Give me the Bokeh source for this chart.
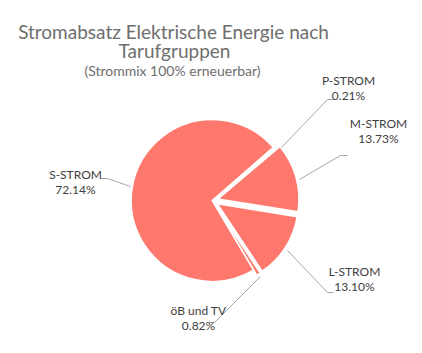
import math
from bokeh.plotting import figure
from bokeh.models import Range1d
from bokeh.core.properties import value
from bokeh.embed import file_html
from bokeh.resources import INLINE

# ---- data ----
categories = ["P-STROM", "M-STROM", "L-STROM", "öB und TV", "S-STROM"]
shares = [0.21, 13.73, 13.10, 0.82, 72.14]
pct_labels = ["0.21%", "13.73%", "13.10%", "0.82%", "72.14%"]
title_lines = ["Stromabsatz Elektrische Energie nach", "Tarufgruppen"]
subtitle = "(Strommix 100% erneuerbar)"

# ---- layout (screen pixels, y downward) ----
W, H = 422, 353
CX, CY, R = 211.7, 200.0, 81.0
FIRST_ANGLE = 49.0          # degrees clockwise from 12 o'clock
explode = [6, 6, 6, 6, 0]
label_xy = [(348, 80), (378, 123), (354, 271), (198, 310), (75, 174)]
leaders = [
    [(281, 147), (327, 99), (333, 99)],
    [(299, 179), (340, 155), (347, 155)],
    [(287, 250), (327, 292), (333, 292)],
    [(260, 276), (214, 322), (208, 322)],
    [(130, 186), (107, 178), (100, 178)],
]
COLOR = "#ff786e"

def fy(y):
    return H - y

p = figure(width=W, height=H, output_backend="svg", toolbar_location=None,
           x_range=Range1d(0, W), y_range=Range1d(0, H), min_border=0)
p.axis.visible = False
p.grid.visible = False
p.outline_line_color = None
p.background_fill_color = "white"
p.border_fill_color = "white"

total = sum(shares)
a0 = FIRST_ANGLE
xs, ys, sa, ea = [], [], [], []
for v, d in zip(shares, explode):
    span = v / total * 360.0
    mid = math.radians(a0 + span / 2)
    cx = CX + d * math.sin(mid)
    cy = CY - d * math.cos(mid)
    xs.append(cx)
    ys.append(fy(cy))
    sa.append(math.radians(90 - a0))
    ea.append(math.radians(90 - (a0 + span)))
    a0 += span

p.wedge(x=xs, y=ys, radius=R, start_angle=sa, end_angle=ea, direction="clock",
        fill_color=COLOR, line_color="white", line_width=1.5)

p.multi_line(xs=[[pt[0] for pt in l] for l in leaders],
             ys=[[fy(pt[1]) for pt in l] for l in leaders],
             line_color="#a6a6a6", line_width=1)

p.text(x=[lx for lx, ly in label_xy], y=[fy(ly) for lx, ly in label_xy],
       text=categories, text_font=value("Lato"), text_font_size="12px",
       text_color="#404040", text_align="center", text_baseline="middle")
p.text(x=[lx for lx, ly in label_xy], y=[fy(ly + 15) for lx, ly in label_xy],
       text=pct_labels, text_font=value("Lato"), text_font_size="12px",
       text_color="#404040", text_align="center", text_baseline="middle")

p.text(x=[173, 174], y=[fy(31), fy(50)], text=title_lines,
       text_font=value("Lato"), text_font_size="19px", text_color="#6e6e6e",
       text_align="center", text_baseline="middle")
p.text(x=[172], y=[fy(70)], text=[subtitle],
       text_font=value("Lato"), text_font_size="14px", text_color="#6e6e6e",
       text_align="center", text_baseline="middle")

open("out.html", "w").write(file_html(p, INLINE))
